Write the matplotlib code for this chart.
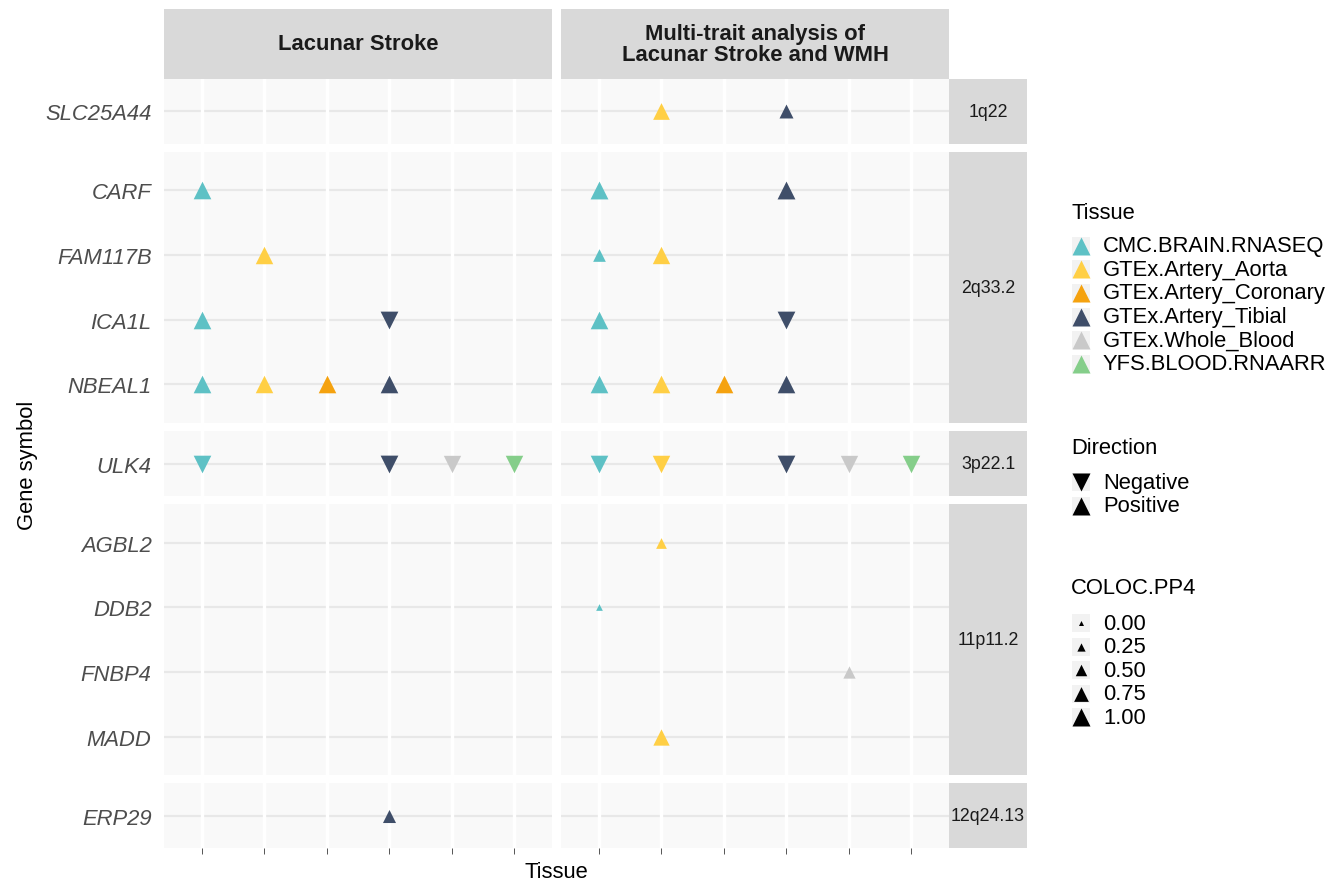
import numpy as np
import matplotlib
matplotlib.use("Agg")
from matplotlib import pyplot as plt

plt.rcParams["font.family"] = ["Liberation Sans", "DejaVu Sans"]

# ---- data -------------------------------------------------------------
tissues = [
    "CMC.BRAIN.RNASEQ",
    "GTEx.Artery_Aorta",
    "GTEx.Artery_Coronary",
    "GTEx.Artery_Tibial",
    "GTEx.Whole_Blood",
    "YFS.BLOOD.RNAARR",
]
tissue_colors = ["#5EC1C5", "#FFCF45", "#F5A20F", "#3F4E69", "#C9C9C9", "#85CE8A"]

traits = ["Lacunar Stroke", "Multi-trait analysis of\nLacunar Stroke and WMH"]

loci = ["1q22", "2q33.2", "3p22.1", "11p11.2", "12q24.13"]
locus_genes = [
    ["SLC25A44"],
    ["CARF", "FAM117B", "ICA1L", "NBEAL1"],
    ["ULK4"],
    ["AGBL2", "DDB2", "FNBP4", "MADD"],
    ["ERP29"],
]

# one entry per colocalisation result
rec_trait = [0, 0, 0, 0, 0, 0, 0, 0, 0, 0, 0, 0, 0,
             1, 1, 1, 1, 1, 1, 1, 1, 1, 1, 1, 1, 1, 1, 1, 1, 1, 1, 1, 1, 1]
rec_gene = ["CARF", "FAM117B", "ICA1L", "ICA1L", "NBEAL1", "NBEAL1", "NBEAL1", "NBEAL1",
            "ULK4", "ULK4", "ULK4", "ULK4", "ERP29",
            "SLC25A44", "SLC25A44", "CARF", "CARF", "FAM117B", "FAM117B", "ICA1L", "ICA1L",
            "NBEAL1", "NBEAL1", "NBEAL1", "NBEAL1",
            "ULK4", "ULK4", "ULK4", "ULK4", "ULK4",
            "AGBL2", "DDB2", "FNBP4", "MADD"]
rec_tissue = [0, 1, 0, 3, 0, 1, 2, 3, 0, 3, 4, 5, 3,
              1, 3, 0, 3, 0, 1, 0, 3, 0, 1, 2, 3, 0, 1, 3, 4, 5,
              1, 0, 4, 1]
rec_dir = ["Positive", "Positive", "Positive", "Negative", "Positive", "Positive", "Positive",
           "Positive", "Negative", "Negative", "Negative", "Negative", "Positive",
           "Positive", "Positive", "Positive", "Positive", "Positive", "Positive", "Positive",
           "Negative", "Positive", "Positive", "Positive", "Positive",
           "Negative", "Negative", "Negative", "Negative", "Negative",
           "Positive", "Positive", "Positive", "Positive"]
rec_pp4 = [0.97, 0.96, 0.97, 0.98, 0.97, 0.96, 0.97, 0.97, 0.97, 0.98, 0.95, 0.96, 0.62,
           0.90, 0.69, 0.99, 0.99, 0.59, 0.95, 0.97, 0.98, 0.97, 0.97, 0.97, 0.97,
           0.97, 0.96, 0.98, 0.95, 0.96,
           0.44, 0.13, 0.56, 0.87]

directions = ["Negative", "Positive"]
pp4_breaks = [0.00, 0.25, 0.50, 0.75, 1.00]


def marker_area(pp4):
    # triangle width grows linearly from ~5 px (0) to ~18 px (1)
    width_px = 5.0 + 13.0 * pp4
    return (width_px * 72 / 100) ** 2


dir_marker = {"Negative": "v", "Positive": "^"}

# ---- layout (pixels) ----------------------------------------------------
W, H = 1343, 887
fig = plt.figure(figsize=(W / 100, H / 100), dpi=100)


def add_px_axes(x0, y0, x1, y1):
    return fig.add_axes([x0 / W, 1 - y1 / H, (x1 - x0) / W, (y1 - y0) / H])


col_x = [(164, 552), (561, 949)]
unit = 64.65
gap = 8
row_y = []
y = 80
for genes in locus_genes:
    h = unit * (1.0 if len(genes) == 1 else len(genes) - 1 + 1.2)
    row_y.append((y, y + h))
    y += h + gap

panel_bg = "#F9F9F9"
strip_bg = "#D9D9D9"
fs = 15.8

for ci, trait in enumerate(traits):
    x0, x1 = col_x[ci]
    # top strip
    sax = add_px_axes(x0, 9.5, x1, 80)
    sax.set_facecolor(strip_bg)
    sax.set_xticks([])
    sax.set_yticks([])
    for s in sax.spines.values():
        s.set_visible(False)
    sax.text(0.5, 0.5, trait, ha="center", va="center", fontsize=fs,
             fontweight="bold", color="#1A1A1A", linespacing=1.0,
             transform=sax.transAxes)

    for ri, genes in enumerate(locus_genes):
        y0, y1 = row_y[ri]
        ax = add_px_axes(x0, y0, x1, y1)
        ax.set_facecolor(panel_bg)
        n = len(genes)
        ax.set_xlim(-0.6, len(tissues) - 1 + 0.6)
        if n == 1:
            ax.set_ylim(0.5, -0.5)
        else:
            ax.set_ylim(n - 1 + 0.6, -0.6)
        for s in ax.spines.values():
            s.set_visible(False)
        # grid: gray horizontal lines, white vertical on top
        for gi in range(n):
            ax.axhline(gi, color="#E8E8E8", lw=1.6, zorder=0.5)
        for ti in range(len(tissues)):
            ax.axvline(ti, color="white", lw=2.4, zorder=0.6)

        for k in range(len(rec_gene)):
            if rec_trait[k] != ci or rec_gene[k] not in genes:
                continue
            ax.scatter(rec_tissue[k], genes.index(rec_gene[k]),
                       s=marker_area(rec_pp4[k]), marker=dir_marker[rec_dir[k]],
                       color=tissue_colors[rec_tissue[k]], linewidths=0, zorder=3)

        ax.set_yticks(range(n))
        if ci == 0:
            ax.set_yticklabels(genes, fontsize=fs, style="italic", color="#4D4D4D")
            ax.tick_params(axis="y", length=0, pad=9)
        else:
            ax.set_yticklabels([])
            ax.tick_params(axis="y", length=0)
        ax.set_xticks(range(len(tissues)))
        ax.set_xticklabels([])
        if ri == len(locus_genes) - 1:
            ax.tick_params(axis="x", length=4.5, width=0.7, color="#555555",
                           direction="out")
        else:
            ax.tick_params(axis="x", length=0)

        if ci == 1:
            rax = add_px_axes(949, y0, 1027, y1)
            rax.set_facecolor(strip_bg)
            rax.set_xticks([])
            rax.set_yticks([])
            for s in rax.spines.values():
                s.set_visible(False)
            rax.text(0.5, 0.5, loci[ri], ha="center", va="center", fontsize=12.8,
                     color="#1A1A1A", transform=rax.transAxes)

fig.text(28 / W, 1 - 465 / H, "Gene symbol", rotation=90, ha="center", va="center",
         fontsize=fs, color="black")
fig.text(556.5 / W, 1 - 873 / H, "Tissue", ha="center", va="center",
         fontsize=fs, color="black")

# ---- legends (drawn in a pixel-coordinate axes) ---------------------------
lax = add_px_axes(1040, 180, 1343, 760)
lax.set_xlim(1040, 1343)
lax.set_ylim(760, 180)
lax.axis("off")

key_x0, key_w = 1072, 18
text_x = 1103
key_bg = "#F2F2F2"


def draw_key(yc, color, marker, area):
    lax.add_patch(plt.Rectangle((key_x0, yc - key_w / 2), key_w, key_w,
                                facecolor=key_bg, edgecolor="none"))
    lax.scatter(key_x0 + key_w / 2, yc, s=area, marker=marker, color=color,
                linewidths=0, zorder=3)


def draw_title(yc, txt):
    lax.text(key_x0 - 1, yc, txt, ha="left", va="center", fontsize=fs, color="black")


draw_title(213, "Tissue")
for i, (name, col) in enumerate(zip(tissues, tissue_colors)):
    yc = 246.7 + i * 23.6
    draw_key(yc, col, "^", marker_area(1.0))
    lax.text(text_x, yc, name, ha="left", va="center", fontsize=fs, color="black")

draw_title(449, "Direction")
for i, d in enumerate(directions):
    yc = 483 + i * 24
    draw_key(yc, "black", dir_marker[d], marker_area(1.0))
    lax.text(text_x, yc, d, ha="left", va="center", fontsize=fs, color="black")

draw_title(588, "COLOC.PP4")
for i, b in enumerate(pp4_breaks):
    yc = 624 + i * 23.6
    draw_key(yc, "black", "^", marker_area(b))
    lax.text(text_x, yc, f"{b:.2f}", ha="left", va="center", fontsize=fs, color="black")

fig.savefig("out.png", dpi=100, facecolor="white")
